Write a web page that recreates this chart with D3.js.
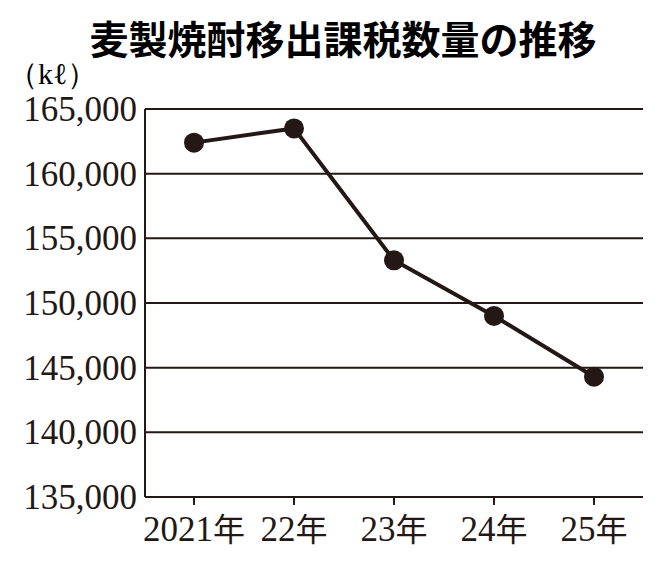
<!DOCTYPE html>
<html><head><meta charset="utf-8">
<script src="https://cdn.jsdelivr.net/npm/d3@7"></script>
<style>body{margin:0;background:#fff}</style>
</head><body>
<script>
const categories = ["2021年","22年","23年","24年","25年"];
const values = [162400, 163500, 153300, 149000, 144300];
const yTicks = [135000,140000,145000,150000,155000,160000,165000];
const title = "麦製焼酎移出課税数量の推移";
const unit = "（kℓ）";

const W=669,H=562;
const svg=d3.select("body").append("svg").attr("width",W).attr("height",H);
const x=d3.scalePoint().domain(categories).range([194,594]);
const y=d3.scaleLinear().domain([135000,165000]).range([497,109]);
const serif="'Liberation Serif','DejaVu Serif',serif";
const cjk="'Noto Sans CJK JP',sans-serif";

svg.append("text").attr("x",343).attr("y",54).attr("text-anchor","middle")
 .attr("font-family",cjk).attr("font-weight","bold").attr("font-size",39).text(title);
svg.append("text").attr("x",8).attr("y",84).attr("font-family",serif).attr("font-size",30).text(unit);

svg.selectAll(".g").data(yTicks.slice(1)).join("line")
 .attr("x1",145).attr("x2",643).attr("y1",d=>y(d)).attr("y2",d=>y(d))
 .attr("stroke","#231815").attr("stroke-width",2);
svg.append("line").attr("x1",145).attr("x2",145).attr("y1",109).attr("y2",497).attr("stroke","#231815").attr("stroke-width",2);
svg.append("line").attr("x1",145).attr("x2",643).attr("y1",497).attr("y2",497).attr("stroke","#231815").attr("stroke-width",2);
svg.selectAll(".xt").data(categories).join("line")
 .attr("x1",d=>x(d)).attr("x2",d=>x(d)).attr("y1",497).attr("y2",505).attr("stroke","#231815").attr("stroke-width",2);

svg.selectAll(".yl").data(yTicks).join("text")
 .attr("x",137).attr("y",d=>y(d)+12).attr("text-anchor","end")
 .attr("font-family",serif).attr("font-size",35).attr("fill","#231815")
 .text(d=>d3.format(",")(d));

const xl=svg.selectAll(".xl").data(categories).join("text")
 .attr("x",d=>x(d)).attr("y",541).attr("text-anchor","middle")
 .attr("font-size",35).attr("fill","#231815");
xl.append("tspan").attr("font-family",serif).text(d=>d.replace("年",""));
xl.append("tspan").attr("font-family",cjk).attr("font-size",32).text("年");

const pts=categories.map((c,i)=>[x(c),y(values[i])]);
svg.append("path").attr("d",d3.line()(pts)).attr("fill","none").attr("stroke","#231815").attr("stroke-width",4);
svg.selectAll(".p").data(pts).join("circle").attr("cx",d=>d[0]).attr("cy",d=>d[1]).attr("r",10).attr("fill","#231815");
</script>
</body></html>
